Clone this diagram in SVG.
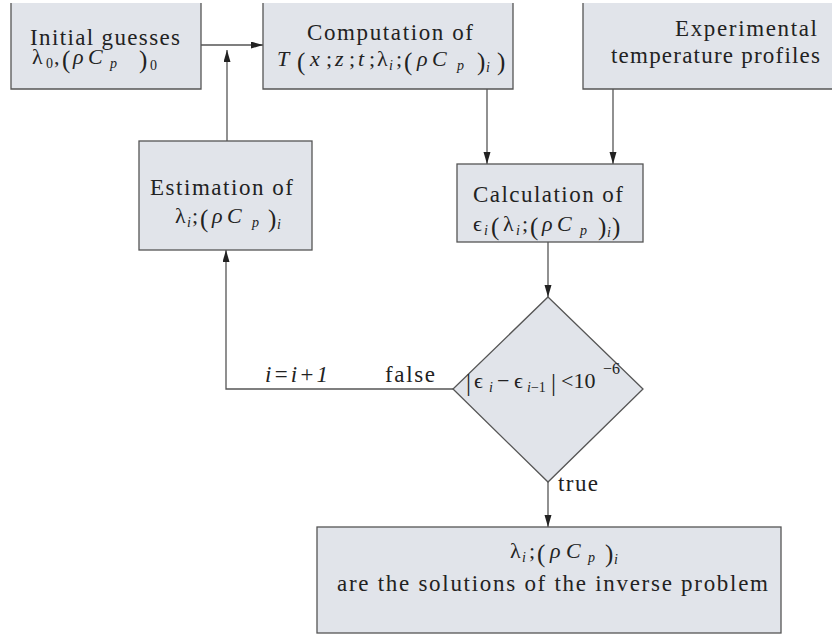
<svg xmlns="http://www.w3.org/2000/svg" width="832" height="637" viewBox="0 0 832 637">
<style>
.fill{fill:#e1e4ea;stroke:none}
.box{fill:#e1e4ea;stroke:#555;stroke-width:1.3}
.edge{fill:none;stroke:#555;stroke-width:1.3}
text{font-family:"Liberation Serif","Times New Roman","DejaVu Serif",serif;fill:#222;font-size:23px}
.m{font-size:22px}
.it{font-style:italic}
.sub{font-size:14px}
.par{font-size:25px}
.con{fill:none;stroke:#555;stroke-width:1.3}
</style>
<defs>
<marker id="ah" markerUnits="userSpaceOnUse" markerWidth="12" markerHeight="8" refX="12" refY="3.5" orient="auto">
<path d="M0,0 L12,3.5 L0,7 z" fill="#222"/>
</marker>
</defs>
<g id="connectors">
<line class="con" x1="201" y1="45" x2="263" y2="45" marker-end="url(#ah)"/>
<line class="con" x1="227" y1="141" x2="227" y2="50" marker-end="url(#ah)"/>
<line class="con" x1="487" y1="89" x2="487" y2="164" marker-end="url(#ah)"/>
<line class="con" x1="613" y1="89" x2="613" y2="164" marker-end="url(#ah)"/>
<line class="con" x1="548" y1="242" x2="548" y2="297" marker-end="url(#ah)"/>
<polyline class="con" points="453,389 226,389 226,250" marker-end="url(#ah)"/>
<line class="con" x1="548" y1="482" x2="548" y2="527" marker-end="url(#ah)"/>
<text x="265" y="382" class="it" textLength="63" lengthAdjust="spacing">i=i+1</text>
<text x="385" y="382" textLength="50" lengthAdjust="spacing">false</text>
<text x="558" y="491" textLength="40" lengthAdjust="spacing">true</text>
</g>
<g id="initial">
<rect class="fill" x="11" y="3" width="190" height="86"/>
<path class="edge" d="M11,3 V89 H201 V3"/>
<text x="30" y="45" textLength="150" lengthAdjust="spacing">Initial guesses</text>
<text y="64" class="m"><tspan x="32">λ</tspan><tspan x="46" y="68" class="sub">0</tspan><tspan x="54" y="64">,</tspan><tspan x="62" y="68" class="par">(</tspan><tspan x="73" y="64" class="it">ρ</tspan><tspan x="88" class="it">C</tspan><tspan x="110" y="68" class="it sub">p</tspan><tspan x="139" y="68" class="par">)</tspan><tspan x="150" y="70" class="sub">0</tspan></text>
</g>
<g id="computation">
<rect class="fill" x="263" y="3" width="250" height="86"/>
<path class="edge" d="M263,3 V89 H513 V3"/>
<text x="307" y="40" textLength="166" lengthAdjust="spacing">Computation of</text>
<text y="66" class="m"><tspan x="277" class="it">T</tspan><tspan x="297" y="70" class="par">(</tspan><tspan x="310" y="66" class="it">x</tspan><tspan x="326">;</tspan><tspan x="335" class="it">z</tspan><tspan x="349">;</tspan><tspan x="358" class="it">t</tspan><tspan x="369">;</tspan><tspan x="377">λ</tspan><tspan x="389" y="70" class="it sub">i</tspan><tspan x="396" y="66">;</tspan><tspan x="404" y="70" class="par">(</tspan><tspan x="417" y="66" class="it">ρ</tspan><tspan x="432" class="it">C</tspan><tspan x="457" y="70" class="it sub">p</tspan><tspan x="477" y="70" class="par">)</tspan><tspan x="486" y="72" class="it sub">i</tspan><tspan x="497" y="70" class="par">)</tspan></text>
</g>
<g id="experimental">
<rect class="fill" x="583" y="3" width="260" height="86"/>
<path class="edge" d="M583,3 V89 H843"/>
<text x="675" y="36" textLength="142" lengthAdjust="spacing">Experimental</text>
<text x="611" y="63" textLength="209" lengthAdjust="spacing">temperature profiles</text>
</g>
<g id="estimation">
<rect class="box" x="139" y="141" width="173" height="109"/>
<text x="150" y="195" textLength="143" lengthAdjust="spacing">Estimation of</text>
<text y="223" class="m"><tspan x="175">λ</tspan><tspan x="187" y="227" class="it sub">i</tspan><tspan x="192" y="223">;</tspan><tspan x="200" y="227" class="par">(</tspan><tspan x="212" y="223" class="it">ρ</tspan><tspan x="227" class="it">C</tspan><tspan x="252" y="227" class="it sub">p</tspan><tspan x="268" y="227" class="par">)</tspan><tspan x="277" y="229" class="it sub">i</tspan></text>
</g>
<g id="calculation">
<rect class="box" x="457" y="164" width="186" height="78"/>
<text x="473" y="202" textLength="150" lengthAdjust="spacing">Calculation of</text>
<text y="231" class="m"><tspan x="473">ϵ</tspan><tspan x="484" y="235" class="it sub">i</tspan><tspan x="491" y="235" class="par">(</tspan><tspan x="503" y="231">λ</tspan><tspan x="516" y="235" class="it sub">i</tspan><tspan x="522" y="231">;</tspan><tspan x="530" y="235" class="par">(</tspan><tspan x="542" y="231" class="it">ρ</tspan><tspan x="557" class="it">C</tspan><tspan x="580" y="235" class="it sub">p</tspan><tspan x="598" y="235" class="par">)</tspan><tspan x="607" y="237" class="it sub">i</tspan><tspan x="612" y="235" class="par">)</tspan></text>
</g>
<g id="decision">
<polygon class="box" points="548,297 643,389 548,482 453,389"/>
<text y="388" class="m"><tspan x="466" y="391" class="par">|</tspan><tspan x="474" y="388">ϵ</tspan><tspan x="489" y="392" class="it sub">i</tspan><tspan x="497" y="388">−</tspan><tspan x="514">ϵ</tspan><tspan x="527" y="392" class="sub"><tspan class="it">i</tspan>−1</tspan><tspan x="551" y="391" class="par">|</tspan><tspan x="561" y="388">&lt;10</tspan><tspan x="603" y="374" class="sub" style="font-size:16px">−6</tspan></text>
</g>
<g id="result">
<rect class="box" x="317" y="527" width="464" height="106"/>
<text y="558" class="m"><tspan x="510">λ</tspan><tspan x="522" y="562" class="it sub">i</tspan><tspan x="529" y="558">;</tspan><tspan x="537" y="562" class="par">(</tspan><tspan x="550" y="558" class="it">ρ</tspan><tspan x="566" class="it">C</tspan><tspan x="588" y="562" class="it sub">p</tspan><tspan x="605" y="562" class="par">)</tspan><tspan x="614" y="564" class="it sub">i</tspan></text>
<text x="337" y="591" textLength="431" lengthAdjust="spacing">are the solutions of the inverse problem</text>
</g>
</svg>
